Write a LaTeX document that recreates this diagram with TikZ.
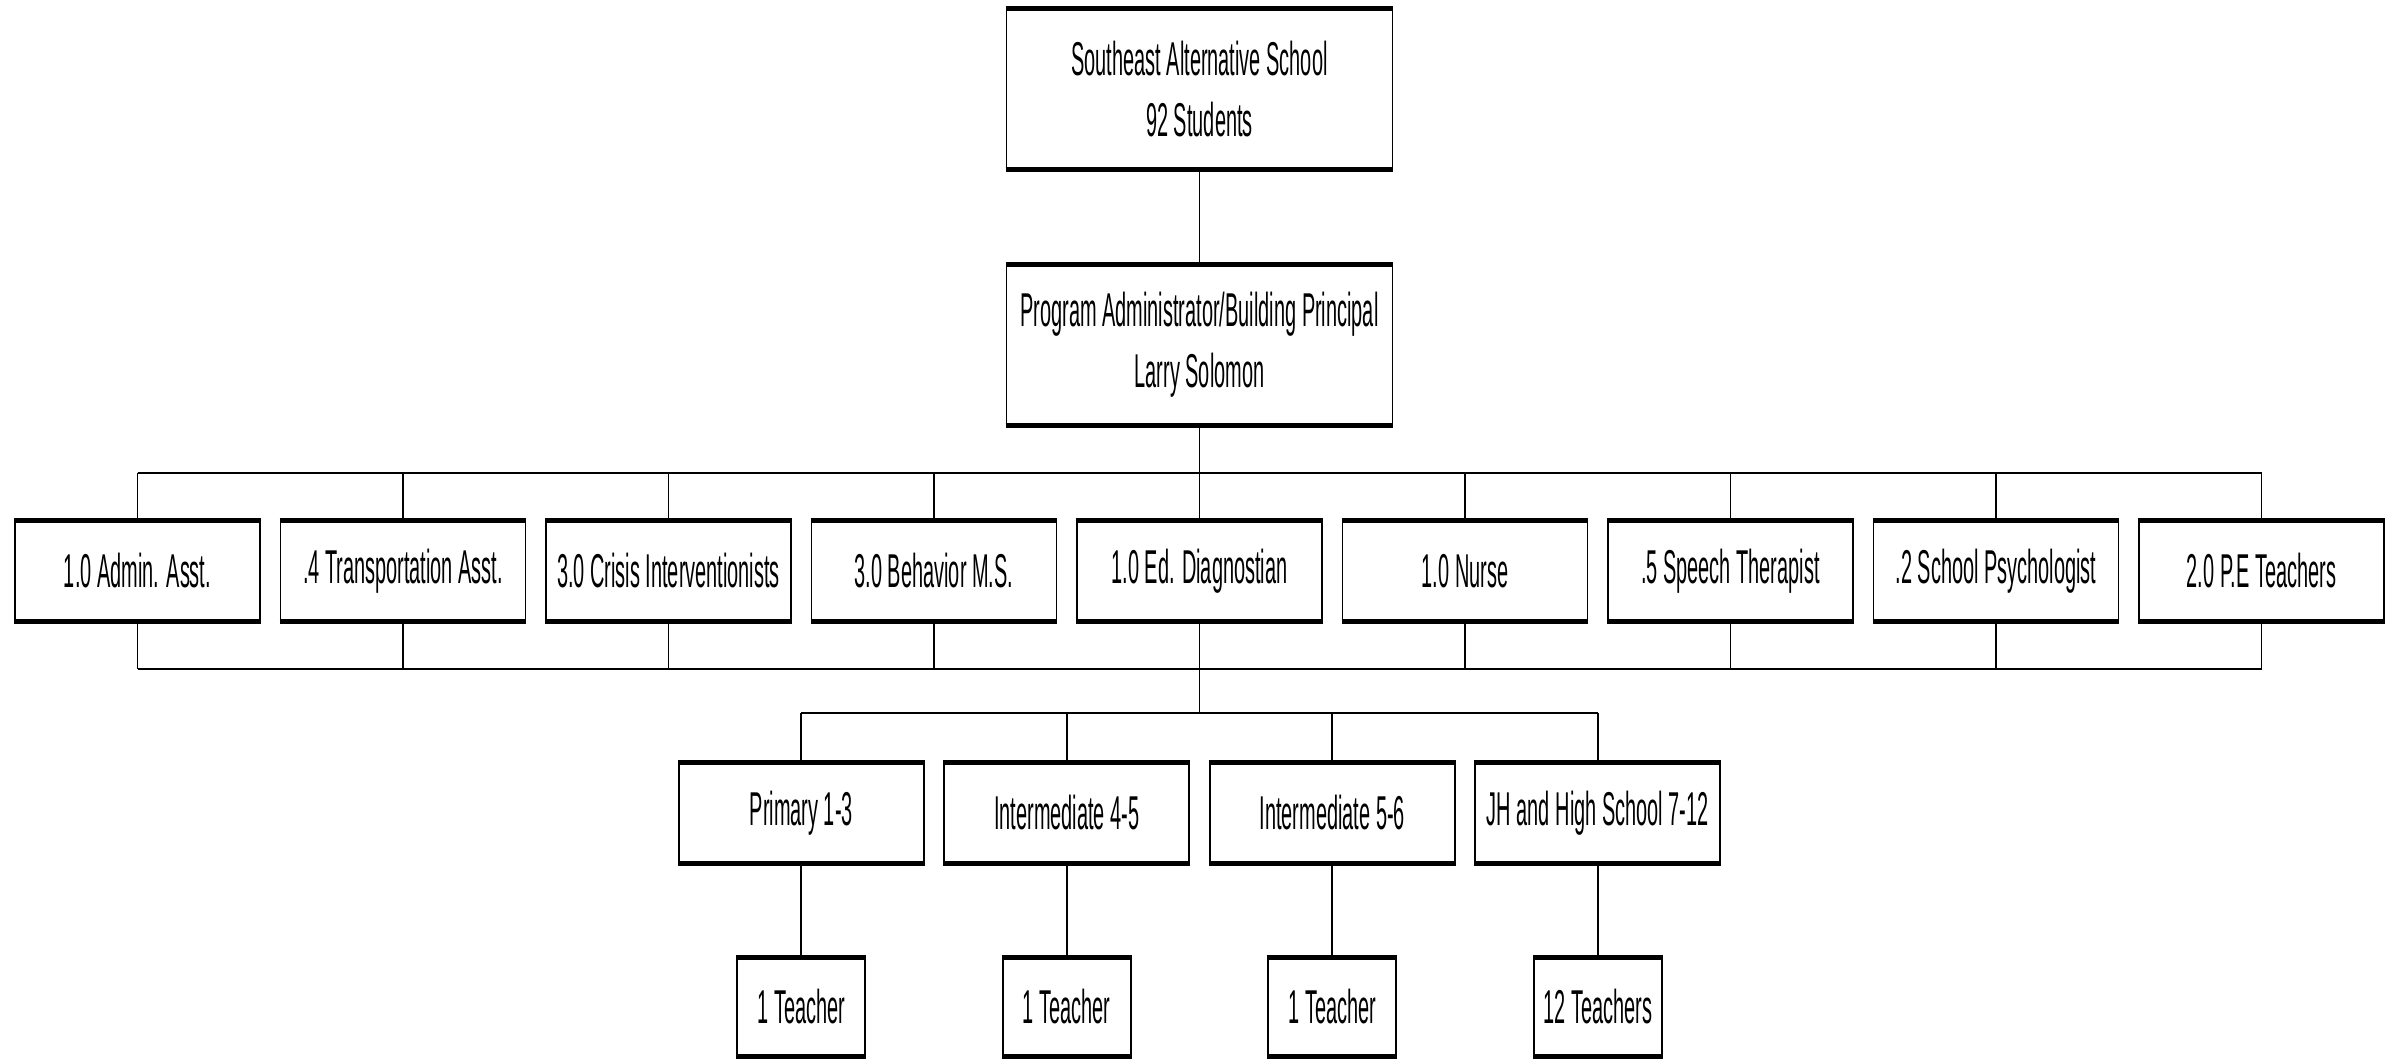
\documentclass[tikz,border=0pt]{standalone}
\usepackage{fontspec}
\setmainfont{Liberation Sans}[FakeStretch=0.42]
\begin{document}
\begin{tikzpicture}[x=1pt,y=-1pt,
  orgbox/.style={draw, line width=1.8pt, inner sep=0pt, align=center,
    font=\fontsize{47.5}{61}\selectfont},
  bigbox/.style={orgbox, minimum width=386pt, minimum height=160pt},
  rowbox/.style={orgbox, minimum width=245pt, minimum height=99pt},
  teachbox/.style={orgbox, minimum width=128pt, minimum height=98pt},
  thickedge/.style={line width=5pt},
  conn/.style={line width=1.8pt},
  bus/.style={line width=2.8pt}]
\useasboundingbox (0,0) rectangle (2390,1058);
\fill[white] (0,0) rectangle (2390,1058);

\node[bigbox] (top) at (1199.5,89) {Southeast Alternative School\\92 Students};
\node[bigbox] (prin) at (1199.5,345) {Program Administrator/Building Principal\\Larry Solomon};

\foreach \i/\t in {1/1.0 Admin. Asst., 2/.4 Transportation Asst., 3/3.0 Crisis Interventionists,
  4/3.0 Behavior M.S., 5/1.0 Ed. Diagnostian, 6/1.0 Nurse, 7/.5 Speech Therapist,
  8/.2 School Psychologist, 9/2.0 P.E Teachers}
  \node[rowbox] (r\i) at ({137.5+265.5*(\i-1)},571) {\t};

\foreach \i/\t in {1/Primary 1-3, 2/Intermediate 4-5, 3/Intermediate 5-6, 4/JH and High School 7-12}
  \node[rowbox, minimum height=100pt] (l\i) at ({1199.5+265.5*(\i-2.5)},813) {\t};

\foreach \i/\t in {1/1 Teacher, 2/1 Teacher, 3/1 Teacher, 4/12 Teachers}
  \node[teachbox] (t\i) at ({1199.5+265.5*(\i-2.5)},1007) {\t};

\coordinate (b1) at (1199.5,473);
\coordinate (b2) at (1199.5,669);
\coordinate (b3) at (1199.5,713);

\draw[conn] (top) -- (prin);
\draw[conn] (prin.south) -- (b1);
\draw[bus] (r1.north |- b1) -- (r9.north |- b1);
\draw[bus] (r1.south |- b2) -- (r9.south |- b2);
\foreach \i in {1,...,9}{
  \draw[conn] (r\i.north) -- (r\i.north |- b1);
  \draw[conn] (r\i.south) -- (r\i.south |- b2);
}
\draw[conn] (b2) -- (b3);
\draw[bus] (l1.north |- b3) -- (l4.north |- b3);
\foreach \i in {1,...,4}{
  \draw[conn] (l\i.north) -- (l\i.north |- b3);
  \draw[conn] (l\i) -- (t\i);
}

\foreach \n in {top,prin,r1,r2,r3,r4,r5,r6,r7,r8,r9,l1,l2,l3,l4,t1,t2,t3,t4}
  \draw[thickedge] (\n.north west) -- (\n.north east) (\n.south west) -- (\n.south east);
\end{tikzpicture}
\end{document}
